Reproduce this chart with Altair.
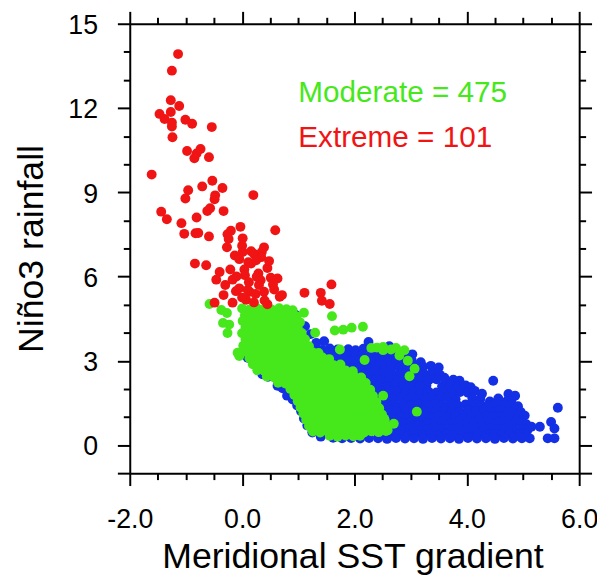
import altair as alt
import pandas as pd

# ---------------- data ----------------
categories = ["Normal", "Moderate", "Extreme"]
colors = ["#1430e6", "#46e81c", "#f01414"]
counts = [None, 475, 101]

x_ticks = [-2.0, -1.5, -1.0, -0.5, 0.0, 0.5, 1.0, 1.5, 2.0, 2.5, 3.0, 3.5, 4.0, 4.5, 5.0, 5.5, 6.0]
y_ticks = [-1, 0, 1, 2, 3, 4, 5, 6, 7, 8, 9, 10, 11, 12, 13, 14, 15]

red_pts = [
    (-1.14, 13.92), (-1.25, 13.33), (-1.27, 12.28), (-1.12, 12.07), (-1.47, 11.79), (-1.38, 11.61),
    (-1.27, 11.86), (-1.25, 11.48), (-1.25, 11.34), (-1.24, 10.96), (-1.01, 11.58), (-0.89, 11.44),
    (-0.54, 11.32), (-0.98, 10.47), (-0.85, 10.21), (-0.81, 10.38), (-0.74, 10.54), (-0.59, 10.25),
    (-1.61, 9.63), (-0.53, 9.41), (0.20, 8.90), (-0.35, 9.15), (-0.71, 9.21), (-0.96, 9.07),
    (-1.01, 8.78), (-0.49, 8.75), (-0.48, 8.89), (-1.44, 8.31), (-1.34, 8.04), (-0.81, 8.10),
    (-0.57, 8.43), (-0.62, 8.33), (-0.33, 8.33), (-1.08, 7.90), (-1.03, 7.52), (-0.83, 7.54),
    (-0.78, 7.55), (-0.59, 7.43), (-0.20, 7.63), (-0.03, 7.77), (0.59, 7.65), (-0.26, 7.51),
    (0.01, 7.36), (-0.24, 7.34), (-0.27, 7.04), (0.39, 7.04), (-0.13, 6.75), (0.01, 6.87),
    (0.16, 6.90), (0.21, 6.81), (0.35, 6.87), (0.34, 6.69), (0.11, 6.51), (0.16, 6.46),
    (-0.84, 6.46), (-0.64, 6.40), (-0.21, 6.25), (0.04, 6.25), (-0.40, 6.16), (0.29, 6.11),
    (0.51, 5.96), (0.63, 5.93), (-0.17, 5.89), (-0.46, 5.89), (0.26, 5.99), (0.33, 5.87),
    (1.59, 5.72), (1.11, 5.42), (1.40, 5.42), (1.42, 5.14), (1.56, 5.02), (-0.33, 5.34),
    (-0.11, 5.48), (0.13, 5.46), (0.39, 5.46), (0.71, 5.34), (-0.05, 5.58), (0.10, 5.52),
    (0.24, 5.38), (0.57, 5.54), (-0.49, 5.07), (-0.17, 5.07), (0.07, 5.17), (0.21, 5.08),
    (0.45, 5.01), (0.67, 5.28), (0.05, 6.05), (0.45, 6.30), (0.25, 6.58), (-0.10, 6.00),
    (0.55, 5.72), (0.30, 5.70), (-0.30, 5.70), (0.00, 5.25), (-0.05, 6.62), (0.00, 7.10),
    (0.48, 6.55), (0.12, 5.80), (0.40, 5.15),
]

green_pts = [
    (0.00, 4.86), (0.13, 4.83), (0.26, 4.88), (0.40, 4.85), (0.53, 4.82), (0.66, 4.87), (0.79, 4.84), (0.90, 4.80),
    (0.05, 4.62), (0.19, 4.66), (0.33, 4.61), (0.46, 4.64), (0.60, 4.60), (0.72, 4.65), (0.86, 4.62), (0.97, 4.58),
    (0.01, 4.42), (0.13, 4.38), (0.27, 4.43), (0.40, 4.40), (0.53, 4.44), (0.67, 4.39), (0.79, 4.42), (0.92, 4.40), (1.03, 4.37),
    (0.06, 4.20), (0.20, 4.17), (0.33, 4.22), (0.46, 4.18), (0.60, 4.21), (0.73, 4.16), (0.86, 4.20), (0.99, 4.18),
    (0.00, 3.98), (0.13, 3.95), (0.27, 3.99), (0.40, 3.96), (0.53, 4.00), (0.66, 3.94), (0.80, 3.98), (0.93, 3.95), (1.06, 3.99),
    (0.06, 3.76), (0.19, 3.73), (0.33, 3.77), (0.46, 3.74), (0.59, 3.78), (0.72, 3.72), (0.86, 3.76), (0.99, 3.73), (1.12, 3.77),
    (0.02, 3.54), (0.15, 3.51), (0.28, 3.55), (0.41, 3.52), (0.54, 3.56), (0.67, 3.50), (0.80, 3.54), (0.93, 3.51), (1.06, 3.55), (1.19, 3.52),
    (0.07, 3.32), (0.21, 3.29), (0.34, 3.33), (0.47, 3.30), (0.60, 3.34), (0.73, 3.28), (0.87, 3.32), (1.00, 3.29), (1.13, 3.33), (1.26, 3.30), (1.36, 3.28),
    (0.13, 3.10), (0.25, 3.07), (0.38, 3.11), (0.51, 3.08), (0.64, 3.12), (0.78, 3.06), (0.91, 3.10), (1.04, 3.07), (1.17, 3.11), (1.30, 3.08), (1.43, 3.12), (1.55, 3.06),
    (0.19, 2.88), (0.32, 2.85), (0.45, 2.89), (0.58, 2.86), (0.71, 2.90), (0.85, 2.84), (0.98, 2.88), (1.11, 2.85), (1.24, 2.89), (1.37, 2.86), (1.50, 2.90), (1.63, 2.84), (1.75, 2.87),
    (0.27, 2.66), (0.40, 2.63), (0.53, 2.67), (0.66, 2.64), (0.79, 2.68), (0.92, 2.62), (1.05, 2.66), (1.18, 2.63), (1.31, 2.67), (1.45, 2.64), (1.58, 2.68), (1.71, 2.62), (1.84, 2.66), (1.97, 2.63),
    (0.44, 2.44), (0.57, 2.41), (0.70, 2.45), (0.83, 2.42), (0.96, 2.46), (1.09, 2.40), (1.22, 2.44), (1.35, 2.41), (1.48, 2.45), (1.61, 2.42), (1.74, 2.46), (1.87, 2.40), (2.00, 2.44), (2.12, 2.41),
    (0.64, 2.22), (0.77, 2.19), (0.90, 2.23), (1.03, 2.20), (1.16, 2.24), (1.29, 2.18), (1.42, 2.22), (1.55, 2.19), (1.68, 2.23), (1.81, 2.20), (1.94, 2.24), (2.07, 2.18), (2.20, 2.21),
    (0.86, 2.00), (0.99, 1.97), (1.12, 2.01), (1.25, 1.98), (1.38, 2.02), (1.51, 1.96), (1.64, 2.00), (1.77, 1.97), (1.90, 2.01), (2.03, 1.98), (2.16, 2.02), (2.28, 1.97),
    (0.93, 1.78), (1.06, 1.75), (1.19, 1.79), (1.32, 1.76), (1.45, 1.80), (1.58, 1.74), (1.71, 1.78), (1.84, 1.75), (1.97, 1.79), (2.10, 1.76), (2.23, 1.80), (2.33, 1.75),
    (0.99, 1.56), (1.12, 1.53), (1.25, 1.57), (1.38, 1.54), (1.51, 1.58), (1.64, 1.52), (1.77, 1.56), (1.90, 1.53), (2.03, 1.57), (2.16, 1.54), (2.29, 1.58), (2.39, 1.53),
    (1.04, 1.34), (1.17, 1.31), (1.30, 1.35), (1.43, 1.32), (1.56, 1.36), (1.69, 1.30), (1.82, 1.34), (1.95, 1.31), (2.08, 1.35), (2.21, 1.32), (2.34, 1.36), (2.44, 1.31),
    (1.09, 1.12), (1.22, 1.09), (1.35, 1.13), (1.48, 1.10), (1.61, 1.14), (1.74, 1.08), (1.87, 1.12), (2.00, 1.09), (2.13, 1.13), (2.26, 1.10), (2.39, 1.14), (2.49, 1.09),
    (1.14, 0.90), (1.27, 0.87), (1.40, 0.91), (1.53, 0.88), (1.66, 0.92), (1.79, 0.86), (1.92, 0.90), (2.05, 0.87), (2.18, 0.91), (2.31, 0.88), (2.44, 0.92), (2.54, 0.87),
    (1.19, 0.68), (1.32, 0.65), (1.45, 0.69), (1.58, 0.66), (1.71, 0.70), (1.84, 0.64), (1.97, 0.68), (2.10, 0.65), (2.23, 0.69), (2.36, 0.66), (2.49, 0.70), (2.59, 0.65),
    (1.26, 0.48), (1.39, 0.45), (1.52, 0.49), (1.65, 0.46), (1.78, 0.50), (1.91, 0.44), (2.04, 0.48), (2.17, 0.45), (2.30, 0.49), (2.43, 0.46), (2.56, 0.50),
    (1.56, 0.33), (1.70, 0.30), (1.84, 0.34), (1.98, 0.31), (2.10, 0.33),
    (-0.58, 5.02), (-0.37, 4.81), (-0.27, 4.70), (-0.34, 4.35), (-0.23, 4.29), (-0.26, 3.99), (-0.08, 3.29), (-0.05, 3.17),
    (1.10, 4.71), (1.60, 4.59), (1.65, 4.08), (1.80, 4.11), (1.95, 4.18), (2.15, 4.21), (1.30, 4.00), (1.74, 3.40),
    (2.30, 3.46), (2.40, 3.47), (2.51, 3.38), (2.51, 3.49), (2.65, 3.40), (2.74, 3.46), (2.89, 3.38), (2.80, 3.19),
    (2.95, 3.00), (3.07, 2.72), (2.98, 2.45), (2.18, 3.03), (3.11, 1.19), (2.51, 1.76), (2.53, 0.94), (2.70, 0.76), (2.59, 0.53),
]

blue_pts = [
    (0.95, 4.64), (1.12, 4.23), (1.22, 3.95), (1.32, 3.64), (1.46, 3.70), (2.25, 3.67), (2.62, 3.52), (3.03, 3.23),
    (1.28, 3.42), (1.42, 3.39), (1.56, 3.44), (1.70, 3.40), (1.89, 3.41), (2.02, 3.38), (2.16, 3.43), (2.44, 3.40), (2.58, 3.36),
    (1.45, 3.21), (1.59, 3.18), (1.73, 3.22), (1.87, 3.19), (2.01, 3.23), (2.15, 3.17), (2.29, 3.21), (2.43, 3.18), (2.57, 3.22), (2.71, 3.19), (2.85, 3.16), (3.00, 3.20),
    (1.62, 2.99), (1.76, 2.96), (1.90, 3.00), (2.04, 2.97), (2.18, 3.01), (2.32, 2.95), (2.46, 2.99), (2.60, 2.96), (2.74, 3.00), (2.88, 2.97), (3.02, 3.01), (3.18, 2.95),
    (1.82, 2.77), (1.96, 2.74), (2.10, 2.78), (2.24, 2.75), (2.38, 2.79), (2.52, 2.73), (2.66, 2.77), (2.80, 2.74), (2.94, 2.78), (3.08, 2.75), (3.22, 2.79), (3.36, 2.82), (3.50, 2.76),
    (1.98, 2.55), (2.12, 2.52), (2.26, 2.56), (2.40, 2.53), (2.54, 2.57), (2.68, 2.51), (2.82, 2.55), (2.96, 2.52), (3.10, 2.56), (3.24, 2.53), (3.38, 2.57), (3.52, 2.50), (3.60, 2.40),
    (2.06, 2.33), (2.20, 2.30), (2.34, 2.34), (2.48, 2.31), (2.62, 2.35), (2.76, 2.29), (2.90, 2.33), (3.04, 2.30), (3.18, 2.35), (3.32, 2.31), (3.46, 2.34), (3.62, 2.29), (3.76, 2.33), (3.87, 2.29), (4.47, 2.29),
    (2.16, 2.11), (2.30, 2.08), (2.44, 2.12), (2.58, 2.09), (2.72, 2.13), (2.86, 2.07), (3.00, 2.11), (3.14, 2.08), (3.28, 2.12), (3.56, 2.09), (3.70, 2.13), (3.84, 2.08), (3.98, 2.12), (4.07, 2.06),
    (2.20, 1.89), (2.34, 1.86), (2.48, 1.90), (2.62, 1.87), (2.76, 1.91), (2.90, 1.85), (3.04, 1.89), (3.18, 1.86), (3.32, 1.90), (3.46, 1.87), (3.60, 1.91), (3.74, 1.85), (3.88, 1.89), (4.02, 1.86), (4.14, 1.93), (4.27, 1.83), (4.74, 1.82), (4.86, 1.76),
    (2.26, 1.67), (2.40, 1.64), (2.54, 1.68), (2.68, 1.65), (2.82, 1.69), (2.96, 1.63), (3.10, 1.67), (3.24, 1.64), (3.38, 1.68), (3.52, 1.65), (3.66, 1.69), (3.80, 1.63), (4.10, 1.67), (4.24, 1.64), (4.41, 1.55), (4.56, 1.66), (4.71, 1.56), (4.80, 1.64),
    (2.30, 1.45), (2.44, 1.42), (2.58, 1.46), (2.72, 1.43), (2.86, 1.47), (3.00, 1.41), (3.14, 1.45), (3.28, 1.42), (3.42, 1.46), (3.56, 1.43), (3.70, 1.47), (3.84, 1.41), (3.98, 1.45), (4.12, 1.42), (4.26, 1.41), (4.40, 1.43), (4.54, 1.46), (4.68, 1.42), (4.80, 1.45), (4.91, 1.38), (5.62, 1.33),
    (2.34, 1.23), (2.48, 1.20), (2.62, 1.24), (2.76, 1.21), (2.90, 1.25), (3.04, 1.19), (3.18, 1.23), (3.32, 1.20), (3.46, 1.24), (3.60, 1.21), (3.74, 1.25), (3.88, 1.19), (4.02, 1.23), (4.16, 1.20), (4.30, 1.24), (4.44, 1.21), (4.58, 1.25), (4.72, 1.19), (4.86, 1.23), (4.96, 1.18),
    (2.40, 1.01), (2.54, 0.98), (2.68, 1.02), (2.82, 0.99), (2.96, 1.03), (3.10, 0.97), (3.24, 1.01), (3.38, 0.98), (3.52, 1.02), (3.66, 0.99), (3.80, 1.03), (3.94, 0.97), (4.08, 1.01), (4.22, 0.98), (4.36, 1.02), (4.50, 0.99), (4.64, 1.03), (4.78, 0.97), (4.92, 1.01), (5.03, 1.05),
    (2.45, 0.79), (2.59, 0.76), (2.73, 0.80), (2.87, 0.77), (3.01, 0.81), (3.15, 0.75), (3.29, 0.79), (3.43, 0.76), (3.57, 0.80), (3.71, 0.77), (3.85, 0.81), (3.99, 0.75), (4.13, 0.79), (4.27, 0.76), (4.41, 0.80), (4.55, 0.77), (4.69, 0.81), (4.83, 0.75), (4.97, 0.79), (5.06, 0.74), (5.50, 0.82),
    (2.45, 0.57), (2.59, 0.54), (2.73, 0.58), (2.87, 0.55), (3.01, 0.59), (3.15, 0.53), (3.29, 0.57), (3.43, 0.54), (3.57, 0.58), (3.71, 0.55), (3.85, 0.59), (3.99, 0.53), (4.13, 0.57), (4.27, 0.54), (4.41, 0.58), (4.55, 0.55), (4.69, 0.59), (4.83, 0.53), (4.97, 0.57), (5.08, 0.54), (5.15, 0.65), (5.30, 0.65), (5.56, 0.59),
    (2.52, 0.37), (2.66, 0.34), (2.80, 0.38), (2.94, 0.35), (3.08, 0.39), (3.22, 0.33), (3.36, 0.37), (3.50, 0.34), (3.64, 0.38), (3.78, 0.35), (3.92, 0.39), (4.06, 0.33), (4.20, 0.37), (4.34, 0.34), (4.48, 0.38), (4.62, 0.35), (4.76, 0.39), (4.90, 0.33), (5.04, 0.37),
    (1.62, 0.26), (1.78, 0.24), (1.94, 0.25), (2.10, 0.23), (2.26, 0.25), (2.42, 0.24), (2.58, 0.22), (2.74, 0.25), (2.90, 0.23), (3.06, 0.24), (3.22, 0.22), (3.38, 0.25), (3.54, 0.23), (3.70, 0.24), (3.86, 0.22), (4.02, 0.25), (4.18, 0.23), (4.34, 0.24), (4.50, 0.22), (4.66, 0.25), (4.82, 0.23), (4.98, 0.24), (5.12, 0.24), (5.44, 0.24), (5.56, 0.24),
    (0.10, 3.11), (0.36, 2.52), (0.46, 2.43), (0.63, 2.11), (0.72, 2.02), (0.80, 1.76), (0.90, 1.62), (0.98, 1.41), (1.05, 1.20), (1.10, 0.95), (1.16, 0.70), (1.25, 0.45), (1.40, 0.30),
]

ann_x = [1.0, 1.0]
ann_y = [12.21, 10.62]

# ---------------- tables ----------------
rows = []
for cat, pts in zip(categories, [blue_pts, green_pts, red_pts]):
    for px, py in pts:
        rows.append({"x": px, "y": py, "cat": cat})
df = pd.DataFrame(rows)

ann = pd.DataFrame({
    "x": ann_x,
    "y": ann_y,
    "cat": categories[1:],
    "label": [f"{c} = {n}" for c, n in zip(categories[1:], counts[1:])],
})

FONT = "Liberation Sans"
xscale = alt.Scale(domain=[-2, 6], nice=False, zero=False)
yscale = alt.Scale(domain=[-1, 15], nice=False, zero=False)
cscale = alt.Scale(domain=categories, range=colors)

x_tick_size = {"condition": {"test": "datum.value % 2 == 0", "value": 12.5}, "value": 6.5}
y_tick_size = {"condition": {"test": "datum.value % 3 == 0 || datum.value == -1", "value": 12.5}, "value": 6.5}

common = dict(
    domainColor="black", domainWidth=2, tickColor="black", tickWidth=2, grid=False,
    labelFont=FONT, labelFontSize=27, labelColor="black",
    titleFont=FONT, titleFontSize=36, titleFontWeight="normal", titleColor="black",
    labelFlush=False, labelOverlap=False,
)

x_bottom = alt.Axis(
    orient="bottom", values=x_ticks, tickSize=x_tick_size,
    labelExpr="datum.value % 2 == 0 ? (datum.value < 0 ? '-' : '') + abs(datum.value) + '.0' : ''",
    labelPadding=21, title="Meridional SST gradient",
    titleX=225, titleY=95, titleAlign="center", titleBaseline="alphabetic", **common,
)
y_left = alt.Axis(
    orient="left", values=y_ticks, tickSize=y_tick_size,
    labelExpr="datum.value % 3 == 0 && datum.value >= 0 ? datum.label : ''",
    labelPadding=20, labelOffset=2, title="Niño3 rainfall",
    titleAngle=270, titleX=-88, titleY=227, titleAlign="center", titleBaseline="alphabetic", **common,
)
x_top = alt.Axis(orient="top", values=x_ticks, tickSize=x_tick_size, labels=False, title=None,
                 domainColor="black", domainWidth=2, tickColor="black", tickWidth=2, grid=False)
y_right = alt.Axis(orient="right", values=y_ticks, tickSize=y_tick_size, labels=False, title=None,
                   domainColor="black", domainWidth=2, tickColor="black", tickWidth=2, grid=False)

points = alt.Chart(df).mark_circle(size=100, opacity=1).encode(
    x=alt.X("x:Q", scale=xscale, axis=x_bottom),
    y=alt.Y("y:Q", scale=yscale, axis=y_left),
    color=alt.Color("cat:N", scale=cscale, legend=None),
)

texts = alt.Chart(ann).mark_text(align="left", baseline="alphabetic", font=FONT, fontSize=30).encode(
    x=alt.X("x:Q", scale=xscale, axis=x_top),
    y=alt.Y("y:Q", scale=yscale, axis=y_right),
    text="label:N",
    color=alt.Color("cat:N", scale=cscale, legend=None),
)

chart = (
    alt.layer(points, texts)
    .resolve_axis(x="independent", y="independent")
    .properties(
        width=454, height=454,
        padding={"left": 123, "top": 13, "right": 18, "bottom": 103},
        autosize=alt.AutoSizeParams(type="none"),
        background="white",
    )
    .configure_view(stroke=None)
)

chart.save("out.html", embed_options={"renderer": "svg", "actions": False})
